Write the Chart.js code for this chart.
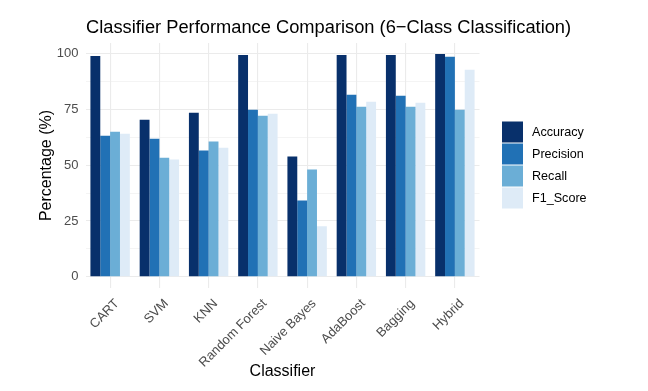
<!DOCTYPE html>
<html>
<head>
<meta charset="utf-8">
<script src="https://cdn.jsdelivr.net/npm/chart.js@4"></script>
<style>
  html, body { margin: 0; padding: 0; background: #fff; }
  #wrap { width: 648px; height: 391px; }
</style>
</head>
<body>
<div id="wrap"><canvas id="chart" width="648" height="391"></canvas></div>
<script>
const classifiers = ["CART", "SVM", "KNN", "Random Forest", "Naive Bayes", "AdaBoost", "Bagging", "Hybrid"]

// values, in percent
const accuracy  = [98.8, 70.3, 73.4, 99.2, 53.8, 99.2, 99.2, 99.7]
const precision = [63.1, 61.8, 56.5, 74.7, 34.2, 81.4, 81.0, 98.4]
const recall    = [64.9, 53.3, 60.5, 72.1, 48.0, 76.1, 76.1, 74.7]
const f1Score   = [64.0, 52.5, 57.8, 73.0, 22.6, 78.3, 77.9, 92.6]

const yTicks = [0, 12.5, 25, 37.5, 50, 62.5, 75, 87.5, 100]

const chartTitle = "Classifier Performance Comparison (6\u2212Class Classification)"
const colors = ["#08306B", "#2171B5", "#6BAED6", "#DEEBF7"]
const font = "'Liberation Sans', Arial, sans-serif"

// title and legend drawn by hand so they sit where ggplot puts them
const ggExtras = {
  id: "ggExtras",
  afterDraw(chart) {
    const ctx = chart.ctx
    const area = chart.chartArea
    const sets = chart.data.datasets
    ctx.save()

    // title, left aligned with the panel
    ctx.font = "18.3px " + font
    ctx.fillStyle = "#000"
    ctx.textBaseline = "alphabetic"
    ctx.fillText(chartTitle, area.left + 0.5, 32.5)

    // legend on the right
    const step = 22
    const left = area.right + 22.5
    const top = (area.top + area.bottom) / 2 - sets.length * step / 2
    ctx.font = "12.6px " + font
    ctx.textBaseline = "middle"
    sets.forEach((ds, i) => {
      const y = top + i * step
      ctx.fillStyle = ds.backgroundColor
      ctx.fillRect(left, y, 21, 21)
      ctx.fillStyle = "#000"
      ctx.fillText(ds.label, left + 30, y + 11)
    })
    ctx.restore()
  }
}

new Chart(document.getElementById("chart"), {
  type: "bar",
  plugins: [ggExtras],
  data: {
    labels: classifiers,
    datasets: [
      { label: "Accuracy", data: accuracy, backgroundColor: colors[0] },
      { label: "Precision", data: precision, backgroundColor: colors[1] },
      { label: "Recall", data: recall, backgroundColor: colors[2] },
      { label: "F1_Score", data: f1Score, backgroundColor: colors[3] }
    ]
  },
  options: {
    responsive: false,
    animation: false,
    layout: { padding: { left: 0, right: 168.5, top: 43, bottom: 0 } },
    datasets: { bar: { categoryPercentage: 0.8, barPercentage: 1.0 } },
    plugins: {
      legend: { display: false },
      tooltip: { enabled: false },
      title: { display: false }
    },
    scales: {
      x: {
        grid: { color: "#EBEBEB", lineWidth: 1.1, offset: false, drawTicks: false },
        border: { display: false },
        ticks: {
          color: "#4D4D4D",
          font: { family: font, size: 13 },
          minRotation: 45,
          maxRotation: 45,
          padding: 8,
          labelOffset: 7
        },
        title: {
          display: true,
          text: "Classifier",
          color: "#000",
          font: { family: font, size: 16 },
          padding: { top: 0, bottom: 10 }
        },
        afterFit(scale) {
          scale.height = 103
          scale.paddingLeft = 0
          scale.paddingRight = 0
        }
      },
      y: {
        min: -4.98,
        max: 104.6,
        afterBuildTicks(scale) {
          scale.ticks = yTicks.map(v => ({ value: v }))
        },
        grid: {
          color: "#EBEBEB",
          drawTicks: false,
          lineWidth: ctx => (ctx.tick && ctx.tick.value % 25 === 0 ? 1.1 : 0.55)
        },
        border: { display: false },
        ticks: {
          color: "#4D4D4D",
          font: { family: font, size: 13 },
          padding: 7,
          callback: v => (v % 25 === 0 ? v : "")
        },
        title: {
          display: true,
          text: "Percentage (%)",
          color: "#000",
          font: { family: font, size: 16 },
          padding: { top: 37, bottom: 0 }
        },
        afterFit(scale) {
          scale.width = 85.5
          scale.paddingTop = 0
          scale.paddingBottom = 0
        }
      }
    }
  }
})
</script>
</body>
</html>
